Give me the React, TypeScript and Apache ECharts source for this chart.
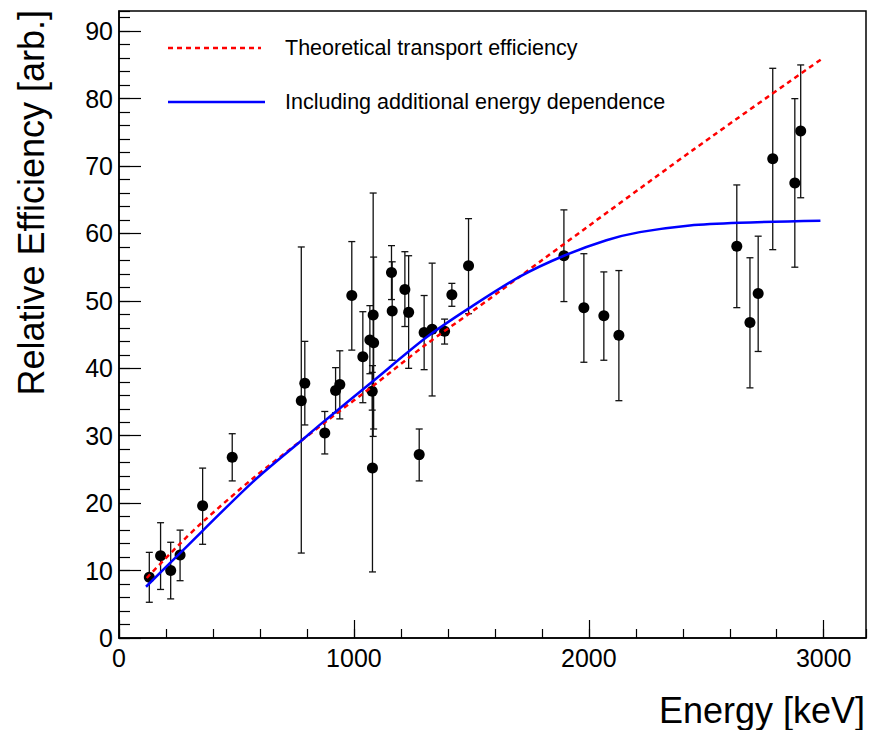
import React, { useEffect, useRef } from "react";
import * as echarts from "echarts";

// Measured points: energy [keV], efficiency, lower and upper error bound
const energies = [129, 177, 220, 260, 356, 482, 776, 791, 876, 922, 940, 991, 1038, 1068, 1084, 1082, 1078, 1079, 1160, 1163, 1217, 1233, 1278, 1299, 1333, 1386, 1417, 1488, 1894, 1979, 2064, 2128, 2630, 2686, 2721, 2783, 2877, 2902];
const efficiencies = [9.0, 12.2, 10.0, 12.3, 19.6, 26.8, 35.2, 37.8, 30.4, 36.7, 37.6, 50.8, 41.7, 44.2, 43.8, 47.9, 36.6, 25.2, 54.2, 48.5, 51.7, 48.3, 27.2, 45.3, 45.8, 45.5, 50.9, 55.2, 56.7, 49.0, 47.8, 44.9, 58.1, 46.8, 51.1, 71.1, 67.5, 75.2];
const errLow = [5.3, 7.2, 5.8, 8.5, 13.9, 23.3, 12.6, 31.6, 27.3, 33.4, 32.5, 42.7, 34.9, 39.2, 31.0, 29.9, 33.8, 9.8, 50.2, 41.2, 46.2, 40.0, 23.3, 39.8, 35.9, 43.6, 49.2, 48.1, 49.9, 40.9, 41.2, 35.2, 49.0, 37.1, 42.5, 57.6, 55.0, 65.3];
const errHigh = [12.7, 17.1, 14.2, 16.0, 25.2, 30.3, 58.0, 44.0, 33.6, 40.1, 42.6, 58.8, 48.4, 49.3, 56.5, 66.0, 39.4, 40.4, 58.2, 55.8, 57.3, 56.7, 31.0, 50.8, 55.6, 47.3, 52.6, 62.2, 63.5, 57.0, 54.3, 54.5, 67.2, 56.4, 59.6, 84.5, 80.0, 85.0];

// Theoretical transport efficiency curve
const theoryE = [118, 260, 359, 571, 777, 926, 1078, 1309, 1494, 1706, 1799, 2444, 2996];
const theoryEff = [8.9, 14.0, 17.3, 23.7, 29.3, 33.3, 37.3, 43.6, 48.2, 53.6, 56.0, 72.4, 86.0];

// Curve including additional energy dependence
const fitE = [115, 260, 571, 777, 875, 1078, 1309, 1494, 1706, 1894, 2075, 2217, 2430, 2643, 2986];
const fitEff = [7.6, 12.6, 23.2, 29.3, 32.2, 38.0, 44.6, 49.0, 53.6, 56.7, 59.0, 60.2, 61.2, 61.6, 61.9];

const legendLabels = ["Theoretical transport efficiency", "Including additional energy dependence"];
const xTitle = "Energy [keV]";
const yTitle = "Relative Efficiency [arb.]";

const FONT = "'Liberation Sans', Arial, Helvetica, sans-serif";

export default function App() {
  const ref = useRef<HTMLDivElement>(null);

  useEffect(() => {
    if (!ref.current) return;
    const chart = echarts.init(ref.current, undefined, { renderer: "svg" });

    const points = energies.map((e, i) => [e, efficiencies[i]]);
    const bars = energies.map((e, i) => [e, errLow[i], errHigh[i]]);
    const theory = theoryE.map((e, i) => [e, theoryEff[i]]);
    const fit = fitE.map((e, i) => [e, fitEff[i]]);

    const grid = { left: 119, top: 11, width: 747, height: 627 };
    const plain = (v: number) => String(v);

    chart.setOption({
      animation: false,
      backgroundColor: "#fff",
      grid: { ...grid, show: true, borderColor: "#000", borderWidth: 1.5, backgroundColor: "transparent" },
      xAxis: [
        {
          type: "value",
          min: 0,
          max: 3180,
          interval: 1000,
          axisLine: { show: true, lineStyle: { color: "#000", width: 1.5 } },
          axisTick: { show: true, inside: true, length: 18, lineStyle: { color: "#000", width: 1.2 } },
          axisLabel: { show: true, color: "#000", fontSize: 25, fontFamily: FONT, margin: 7, showMaxLabel: false, formatter: plain },
          splitLine: { show: false },
        },
        {
          type: "value",
          min: 0,
          max: 3180,
          interval: 200,
          position: "bottom",
          axisLine: { show: false },
          axisTick: { show: true, inside: true, length: 9, lineStyle: { color: "#000", width: 1.2 } },
          axisLabel: { show: false },
          splitLine: { show: false },
        },
      ],
      yAxis: [
        {
          type: "value",
          min: 0,
          max: 93,
          interval: 10,
          axisLine: { show: true, lineStyle: { color: "#000", width: 1.5 } },
          axisTick: { show: true, inside: true, length: 22, lineStyle: { color: "#000", width: 1.2 } },
          axisLabel: { show: true, color: "#000", fontSize: 25, fontFamily: FONT, margin: 6, showMaxLabel: false, formatter: plain },
          splitLine: { show: false },
        },
        {
          type: "value",
          min: 0,
          max: 93,
          interval: 2,
          position: "left",
          axisLine: { show: false },
          axisTick: { show: true, inside: true, length: 11, lineStyle: { color: "#000", width: 1.2 } },
          axisLabel: { show: false },
          splitLine: { show: false },
        },
      ],
      series: [
        {
          type: "custom",
          xAxisIndex: 0,
          yAxisIndex: 0,
          data: bars,
          encode: { x: 0, y: [1, 2] },
          z: 2,
          renderItem: (_params: any, api: any) => {
            const x = api.value(0);
            const lo = api.coord([x, api.value(1)]);
            const hi = api.coord([x, api.value(2)]);
            const hw = 3.5;
            const style = { stroke: "#111", lineWidth: 1.3 };
            return {
              type: "group",
              children: [
                { type: "line", shape: { x1: lo[0], y1: lo[1], x2: hi[0], y2: hi[1] }, style },
                { type: "line", shape: { x1: lo[0] - hw, y1: lo[1], x2: lo[0] + hw, y2: lo[1] }, style },
                { type: "line", shape: { x1: hi[0] - hw, y1: hi[1], x2: hi[0] + hw, y2: hi[1] }, style },
              ],
            };
          },
        },
        {
          type: "scatter",
          xAxisIndex: 0,
          yAxisIndex: 0,
          data: points,
          symbol: "circle",
          symbolSize: 11,
          itemStyle: { color: "#000", opacity: 1 },
          z: 3,
        },
        {
          type: "line",
          name: legendLabels[0],
          xAxisIndex: 0,
          yAxisIndex: 0,
          data: theory,
          smooth: 0.3,
          showSymbol: false,
          lineStyle: { color: "#ff0000", width: 2.5, type: [5, 4] },
          z: 4,
        },
        {
          type: "line",
          name: legendLabels[1],
          xAxisIndex: 0,
          yAxisIndex: 0,
          data: fit,
          smooth: 0.3,
          showSymbol: false,
          lineStyle: { color: "#0000ff", width: 2.5 },
          z: 5,
        },
      ],
      graphic: [
        {
          type: "line",
          shape: { x1: 168, y1: 48, x2: 261, y2: 48 },
          style: { stroke: "#ff0000", lineWidth: 2.5, lineDash: [5, 4] },
        },
        {
          type: "text",
          x: 285,
          y: 48,
          style: { text: legendLabels[0], font: `21.5px ${FONT}`, fill: "#000", textVerticalAlign: "middle" },
        },
        {
          type: "line",
          shape: { x1: 168, y1: 102, x2: 265, y2: 102 },
          style: { stroke: "#0000ff", lineWidth: 2.5 },
        },
        {
          type: "text",
          x: 285,
          y: 102,
          style: { text: legendLabels[1], font: `21.5px ${FONT}`, fill: "#000", textVerticalAlign: "middle" },
        },
        {
          type: "text",
          x: 865,
          y: 710,
          style: { text: xTitle, font: `36px ${FONT}`, fill: "#000", textAlign: "right", textVerticalAlign: "middle" },
        },
        {
          type: "text",
          x: 31,
          y: 10,
          rotation: Math.PI / 2,
          style: { text: yTitle, font: `36px ${FONT}`, fill: "#000", textAlign: "right", textVerticalAlign: "middle" },
        },
      ],
    });

    return () => chart.dispose();
  }, []);

  return (
    <div
      ref={ref}
      style={{ position: "fixed", left: 0, top: 0, width: 869, height: 730, background: "#fff" }}
    />
  );
}
